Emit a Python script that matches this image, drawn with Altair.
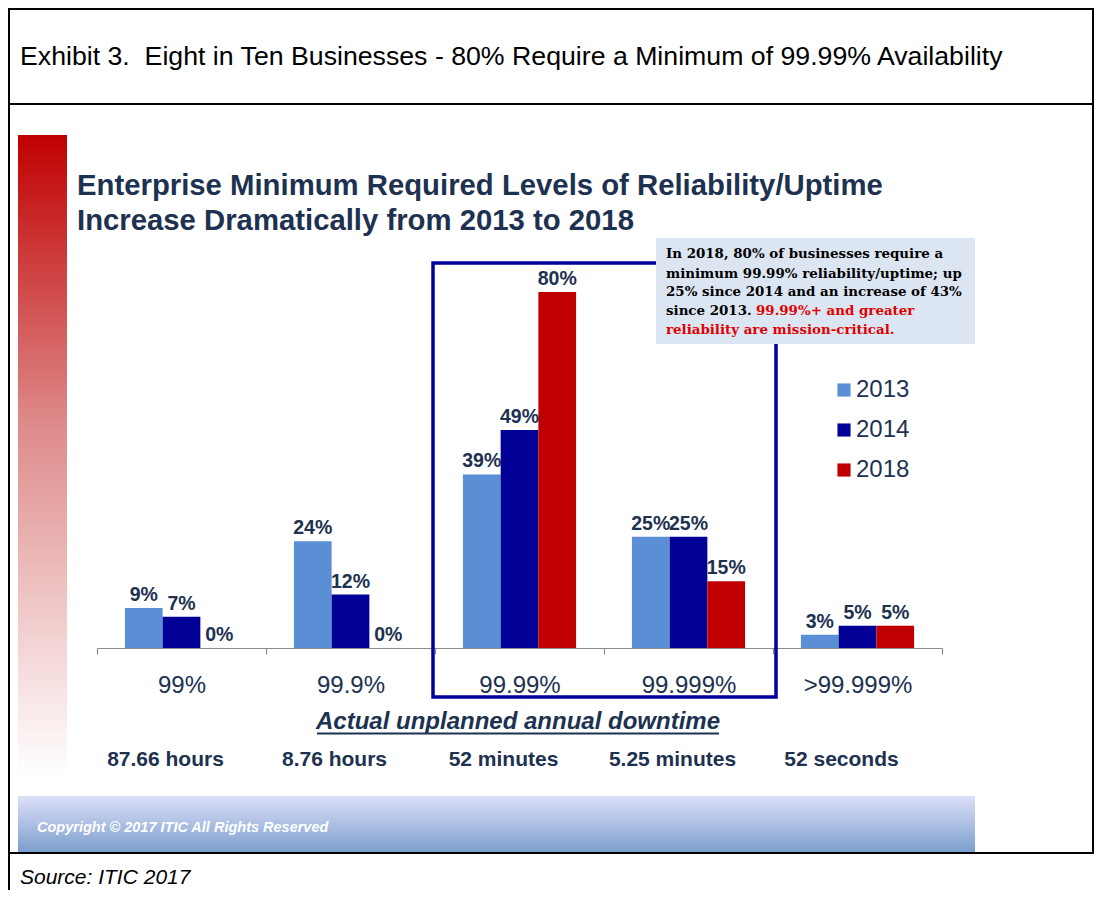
import altair as alt
import pandas as pd

# ---------------- data ----------------
categories = ["99%", "99.9%", "99.99%", "99.999%", ">99.999%"]
downtime = ["87.66 hours", "8.76 hours", "52 minutes", "5.25 minutes", "52 seconds"]
years = ["2013", "2014", "2018"]
share_2013 = [9, 24, 39, 25, 3]
share_2014 = [7, 12, 49, 25, 5]
share_2018 = [0, 0, 80, 15, 5]
year_colors = ["#5B8FD5", "#000096", "#C00000"]

exhibit_title = "Exhibit 3.\u00a0 Eight in Ten Businesses - 80% Require a Minimum of 99.99% Availability"
chart_title = ["Enterprise Minimum Required Levels of Reliability/Uptime",
               "Increase Dramatically from 2013 to 2018"]
note_black = ["In 2018, 80% of businesses require a",
              "minimum 99.99% reliability/uptime; up",
              "25% since 2014 and an increase of 43%",
              "since 2013."]
note_red = ["99.99%+ and greater", "reliability are mission-critical."]
axis_caption = "Actual unplanned annual downtime"
copyright_text = "Copyright \u00a9 2017 ITIC All Rights Reserved"
source_text = "Source: ITIC 2017"

# ---------------- tables ----------------
rows = []
for yr, vals in zip(years, [share_2013, share_2014, share_2018]):
    for c, v in zip(categories, vals):
        rows.append({"category": c, "year": yr, "value": v, "label": f"{v}%"})
bars_df = pd.DataFrame(rows)
cat_df = pd.DataFrame({"category": categories, "downtime": downtime})
one = pd.DataFrame({"k": [0]})

NAVY = "#1D3150"
SANS = "Liberation Sans"
X0, Y0 = 97, 203   # page position of the plot origin


def px(x):
    return x - X0


def py(y):
    return y - Y0


def hline(x1, x2, y, color="black", w=2):
    return alt.Chart(one).mark_rule(color=color, strokeWidth=w).encode(
        x=alt.value(px(x1)), x2=alt.value(px(x2)), y=alt.value(py(y)))


def vline(x, y1, y2, color="black", w=2):
    return alt.Chart(one).mark_rule(color=color, strokeWidth=w).encode(
        x=alt.value(px(x)), y=alt.value(py(y1)), y2=alt.value(py(y2)))


def box(x1, x2, y1, y2, **kw):
    return alt.Chart(one).mark_rect(**kw).encode(
        x=alt.value(px(x1)), x2=alt.value(px(x2)),
        y=alt.value(py(y1)), y2=alt.value(py(y2)))


def label(txt, x, y, **kw):
    kw.setdefault("align", "left")
    kw.setdefault("baseline", "alphabetic")
    return alt.Chart(one).mark_text(text=txt, **kw).encode(
        x=alt.value(px(x)), y=alt.value(py(y)))


# ---------------- frame ----------------
frame = [
    hline(8, 1094, 9),
    hline(8, 1094, 104),
    hline(8, 1094, 853),
    vline(9, 8, 890),
    vline(1093, 8, 853),
]

red_grad = alt.Gradient(
    gradient="linear", x1=0, x2=0, y1=0, y2=1,
    stops=[alt.GradientStop(color="#C00000", offset=0),
           alt.GradientStop(color="#DE8A8A", offset=0.45),
           alt.GradientStop(color="#FFFFFF", offset=1)])
blue_grad = alt.Gradient(
    gradient="linear", x1=0, x2=0, y1=0, y2=1,
    stops=[alt.GradientStop(color="#DDE0F9", offset=0),
           alt.GradientStop(color="#7C9FCD", offset=1)])

left_bar = box(18, 67, 135, 775, fill=red_grad)
copy_bar = box(18, 975, 796, 852, fill=blue_grad)
highlight = box(433, 776, 263, 697, fill=None, stroke="#00009A", strokeWidth=3.5)

# ---------------- bars ----------------
x_enc = alt.X("category:N",
              scale=alt.Scale(domain=categories, paddingInner=0, paddingOuter=0),
              axis=alt.Axis(title=None, labelAngle=0, labelFont=SANS, labelFontSize=24,
                            labelColor=NAVY, labelPadding=19, domainColor="#8C8C8C",
                            tickColor="#8C8C8C", tickSize=6, tickBand="extent",
                            domainWidth=1.2, tickWidth=1.2, grid=False))
xoff = alt.XOffset("year:N", scale=alt.Scale(domain=years, paddingInner=0, paddingOuter=0.74))
y_enc = alt.Y("value:Q", scale=alt.Scale(domain=[0, 100]), axis=None)

bars = alt.Chart(bars_df).mark_bar(strokeWidth=0).encode(
    x=x_enc, xOffset=xoff, y=y_enc,
    color=alt.Color("year:N", scale=alt.Scale(domain=years, range=year_colors),
                    legend=alt.Legend(title=None, orient="none", legendX=735, legendY=175,
                                      symbolType="square", symbolSize=172,
                                      symbolStrokeWidth=0, symbolOpacity=1,
                                      labelFont=SANS, labelFontSize=24, labelColor=NAVY,
                                      labelOffset=0, rowPadding=16, padding=0)))

bar_labels = alt.Chart(bars_df).mark_text(
    baseline="bottom", dy=-3, font=SANS, fontSize=19.5, fontWeight="bold", color=NAVY
).encode(x=x_enc, xOffset=xoff, y=y_enc, text="label:N")

downtime_text = alt.Chart(cat_df).mark_text(
    baseline="alphabetic", dx=-16, font=SANS, fontSize=21, fontWeight="bold", color=NAVY
).encode(x=x_enc, y=alt.value(py(766)), text="downtime:N")

# ---------------- annotation ----------------
note_bg = box(656, 975, 238, 344, fill="#DCE6F2")
NOTE_FONT = dict(font="DejaVu Serif", fontSize=13.4, fontWeight="bold")
note_y = [258, 277.5, 296, 315, 334]
notes = [label(t, 666, yy, color="black", **NOTE_FONT) for t, yy in zip(note_black, note_y)]
notes.append(label(note_red[0], 756, note_y[3], color="#E00000", **NOTE_FONT))
notes.append(label(note_red[1], 666, note_y[4], color="#E00000", **NOTE_FONT))

# ---------------- titles / texts ----------------
texts = [
    label(exhibit_title, 20, 65, font=SANS, fontSize=26.7, color="black"),
    label(chart_title[0], 77, 195, font=SANS, fontSize=29.3, fontWeight="bold", color=NAVY),
    label(chart_title[1], 77, 230, font=SANS, fontSize=29.3, fontWeight="bold", color=NAVY),
    label(axis_caption, 518, 729, align="center", font=SANS, fontSize=24,
          fontWeight="bold", fontStyle="italic", color=NAVY),
    hline(317, 719, 733.5, color=NAVY, w=2),
    label(copyright_text, 37, 832, font=SANS, fontSize=14.5, fontWeight="bold",
          fontStyle="italic", color="white"),
    label(source_text, 20, 884, font=SANS, fontSize=21, fontStyle="italic", color="black"),
]

chart = alt.layer(
    *frame, left_bar, copy_bar, highlight, bars, bar_labels, downtime_text,
    note_bg, *notes, *texts
).properties(
    width=845, height=445,
    padding={"left": 89, "top": 195, "right": 152, "bottom": 242},
    autosize=alt.AutoSizeParams(type="none"),
    background="white",
).configure_view(strokeWidth=0, stroke=None)

chart.save("out.html", embed_options={"renderer": "svg", "actions": False})
